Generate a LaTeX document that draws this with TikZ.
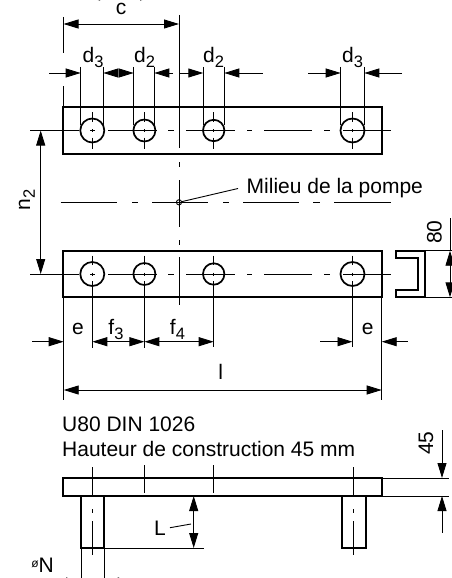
\documentclass[tikz,border=0pt]{standalone}
\usepackage{fontspec}
\setmainfont{Liberation Sans}
\usetikzlibrary{arrows.meta}
\tikzset{
  x=1pt,y=-1pt,
  thickline/.style={line width=1.7pt,line join=miter},
  thinline/.style={line width=0.9pt},
  dimtip/.style={-{Triangle[length=15pt,width=9pt]}},
  dimboth/.style={{Triangle[length=15pt,width=9pt]}-{Triangle[length=15pt,width=9pt]}},
  lbl/.style={inner sep=0pt,font=\fontsize{21}{25}\selectfont},
}
\newcommand{\subdig}[1]{\raisebox{-5pt}{\fontsize{16.5}{19}\selectfont #1}}
\newcommand{\holev}[3]{% x, ycentre, r
  \draw[thinline] (#1,#2-18.5) -- (#1,#2-9) (#1,#2-1.5) -- (#1,#2+1.5) (#1,#2+7) -- (#1,#2+18);
  \draw[thickline] (#1,#2) circle[radius=#3];
}
\newcommand{\axisline}[1]{% horizontal centre line through holes
  \draw[thinline] (30,#1) -- (79,#1) (90,#1) -- (95,#1) (108,#1) -- (157,#1) (168,#1) -- (174,#1)
    (186,#1) -- (235,#1) (247,#1) -- (252,#1) (264,#1) -- (312,#1) (324,#1) -- (330,#1) (343,#1) -- (391,#1);
}
\begin{document}
\begin{tikzpicture}
\useasboundingbox (0,0) rectangle (452,578);
% ---------- top bar
\draw[thickline] (63,107) rectangle (382,154);
\holev{92.3}{130.5}{12}
\holev{144.4}{130.5}{11}
\holev{213.7}{130.5}{10.7}
\holev{352.5}{130.5}{12}
\axisline{130.5}
% centre vertical
\draw[thinline] (179,15) -- (179,148) (179,162) -- (179,167) (179,180) -- (179,227) (179,240) -- (179,245) (179,257) -- (179,305);
% c
\draw[thinline] (63.5,17) -- (63.5,53) (63.5,86) -- (63.5,107);
\draw[thinline,dimboth] (63.5,24) -- (179,24);
\node[lbl,anchor=base] (c) at (121,15) {c};
\draw[thinline,dimboth] (85,-4) -- (155,-4);
% d row
\draw[thinline] (80.7,67) -- (80.7,125) (103.3,67) -- (103.3,125) (133.7,67) -- (133.7,125) (154.3,67) -- (154.3,125)
  (203.3,67) -- (203.3,125) (224.3,67) -- (224.3,125) (340.7,67) -- (340.7,125) (364.3,67) -- (364.3,125);
\draw[thinline,dimtip] (49,73) -- (80.7,73);
\draw[thinline,dimtip] (117,73) -- (103.3,73);
\draw[thinline,dimtip] (119,73) -- (133.7,73);
\draw[thinline,dimtip] (173,73) -- (154.3,73);
\draw[thinline,dimtip] (179.5,73) -- (203.3,73);
\draw[thinline,dimtip] (262.7,73) -- (224.3,73);
\draw[thinline,dimtip] (308,73) -- (340.7,73);
\draw[thinline,dimtip] (402,73) -- (364.3,73);
\node[lbl,anchor=base] (d3a) at (93,63) {d\subdig{3}};
\node[lbl,anchor=base] (d2a) at (144.5,63) {d\subdig{2}};
\node[lbl,anchor=base] (d2b) at (213.5,63) {d\subdig{2}};
\node[lbl,anchor=base] (d3b) at (352.5,63) {d\subdig{3}};
% n2
\draw[thinline,dimboth] (40.7,130.5) -- (40.7,274);
\node[lbl,anchor=base,rotate=90] (n2) at (30,200) {n\subdig{2}};
% middle axis
\draw[thinline] (60.7,202.3) -- (117,202.3) (132,202.3) -- (138,202.3) (152,202.3) -- (208,202.3) (223,202.3) -- (229,202.3)
  (243,202.3) -- (299,202.3) (313,202.3) -- (320,202.3) (334,202.3) -- (391,202.3);
\draw[thinline] (179,202.3) circle[radius=2.6];
\coordinate (mid) at (179,202.3);
\node[lbl,anchor=base west] (mil) at (246.5,193.3) {Milieu de la pompe};
\coordinate (lead) at (238,188.5);
\draw[thinline] (181.5,201.7) -- (lead);
% ---------- lower bar
\draw[thickline] (63,250.7) rectangle (382,297.3);
\draw[thinline] (92.3,255.5) -- (92.3,265) (92.3,272.5) -- (92.3,275.5) (92.3,281) -- (92.3,348)
  (144.4,255.5) -- (144.4,265) (144.4,272.5) -- (144.4,275.5) (144.4,281) -- (144.4,348)
  (213.7,255.5) -- (213.7,265) (213.7,272.5) -- (213.7,275.5) (213.7,281) -- (213.7,347)
  (352.5,255.5) -- (352.5,265) (352.5,272.5) -- (352.5,275.5) (352.5,281) -- (352.5,347);
\draw[thickline] (92.3,274) circle[radius=12] (144.4,274) circle[radius=11] (213.7,274) circle[radius=10.7] (352.5,274) circle[radius=12];
\axisline{274}
% lower dims
\draw[thinline] (63.7,297) -- (63.7,400) (381.7,297) -- (381.7,400);
\draw[thinline,dimtip] (32,341.7) -- (63.7,341.7);
\draw[thinline,dimboth] (92.3,341.7) -- (144.4,341.7);
\draw[thinline,dimboth] (144.4,341.7) -- (213.7,341.7);
\draw[thinline,dimtip] (320,341.7) -- (352.5,341.7);
\draw[thinline,dimtip] (407.7,341.7) -- (381.7,341.7);
\node[lbl,anchor=base] (e1) at (78,334) {e};
\node[lbl,anchor=base] (f3) at (116,334) {f\subdig{3}};
\node[lbl,anchor=base] (f4) at (177.5,334) {f\subdig{4}};
\node[lbl,anchor=base] (e2) at (367.7,334) {e};
\draw[thinline,dimboth] (63.7,390) -- (381.7,390);
\node[lbl,anchor=base] (l) at (220.7,379.5) {l};
% channel
\draw[thickline] (396,250.7) -- (425,250.7) -- (425,297.3) -- (396,297.3) -- (396,290) -- (418,290) -- (418,258) -- (396,258) -- cycle;
\draw[thinline] (425,250.7) -- (452,250.7) (425,297.3) -- (452,297.3) (450,218) -- (450,250.7);
\draw[thinline,dimboth] (450,250.7) -- (450,297.3);
\node[lbl,anchor=base,rotate=90] (h80) at (441.5,232) {80};
% text
\node[lbl,anchor=base west] (u80) at (62,431.7) {U80 DIN 1026};
\node[lbl,anchor=base west] (haut) at (62,456) {Hauteur de construction 45 mm};
% side view
\draw[thickline] (63,478) rectangle (382,496);
\draw[thickline] (81,496) -- (81,548.3) -- (104.3,548.3) -- (104.3,496);
\draw[thickline] (342,496) -- (342,548.3) -- (365.7,548.3) -- (365.7,496);
\draw[thinline] (92.3,467) -- (92.3,495) (92.3,509) -- (92.3,513) (92.3,521) -- (92.3,555)
  (353.3,467) -- (353.3,495) (353.3,509) -- (353.3,513) (353.3,521) -- (353.3,555)
  (144.4,465) -- (144.4,492.7) (213.7,465) -- (213.7,492.7);
\draw[thinline] (104.3,548) -- (204,548);
\draw[thinline,dimboth] (193.7,496) -- (193.7,548);
\node[lbl,anchor=base] (L) at (160,535.7) {L};
\coordinate (Lb) at (191,524);
\draw[thinline] (170,527.7) -- (Lb);
\draw[thinline] (382,478) -- (449,478) (382,496) -- (449,496);
\draw[thinline,dimtip] (442,430) -- (442,478);
\draw[thinline,dimtip] (442,532.7) -- (442,496);
\node[lbl,anchor=base,rotate=90] (h45) at (433,443) {45};
% oN
\node[inner sep=0pt,anchor=base east] (oN) at (54,572.7) {\fontsize{12}{15}\selectfont\raisebox{5pt}{ø}\fontsize{21}{25}\selectfont N};
\draw[thinline] (81,549) -- (81,578) (104,549) -- (104,578);
\draw[thinline,dimtip] (50,582) -- (81,582);
\draw[thinline,dimtip] (135,582) -- (104,582);
\end{tikzpicture}
\end{document}
